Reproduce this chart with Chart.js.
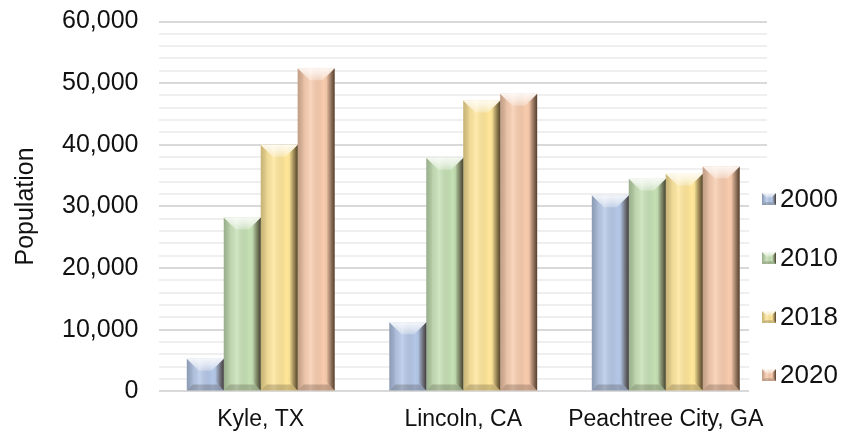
<!DOCTYPE html>
<html>
<head>
<meta charset="utf-8">
<script src="https://cdn.jsdelivr.net/npm/chart.js@4"></script>
<style>
    html, body { margin: 0; padding: 0; background: #fff; }
</style>
</head>
<body>
<canvas id="grafica" width="843" height="432"></canvas>
<script>
// Datos
const ciudades = ['Kyle, TX', 'Lincoln, CA', 'Peachtree City, GA'];
const anios = ['2000', '2010', '2018', '2020'];
const poblacion2000 = [5300, 11200, 31800];
const poblacion2010 = [28200, 37900, 34500];
const poblacion2018 = [40000, 47200, 35300];
const poblacion2020 = [52400, 48300, 36500];
const colores = ['#b4c7e7', '#c5e0b4', '#ffe699', '#f8cbad'];

const fuente = '"Liberation Sans", Arial, sans-serif';

// Rellena un polígono
function poligono(ctx, puntos, estilo) {
    ctx.beginPath();
    ctx.moveTo(puntos[0][0], puntos[0][1]);
    for (let i = 1; i < puntos.length; i++) {
        ctx.lineTo(puntos[i][0], puntos[i][1]);
    }
    ctx.closePath();
    ctx.fillStyle = estilo;
    ctx.fill();
}

// Efecto de bisel (como el de Excel) encima de una barra
function dibujarBisel(ctx, x0, x1, top, bottom, tam) {
    let w = x1 - x0;
    let h = bottom - top;
    if (h <= 0) return;
    let bt = Math.min(tam, w / 3, h / 2);      // bisel superior
    let s = Math.min(tam * 0.5, w / 5, h / 3); // biseles laterales e inferior
    ctx.save();

    let g = ctx.createLinearGradient(x0, 0, x1, 0);
    g.addColorStop(0, 'rgba(0,0,0,0.05)');
    g.addColorStop(0.35, 'rgba(255,255,255,0.2)');
    g.addColorStop(0.7, 'rgba(0,0,0,0.0)');
    g.addColorStop(1, 'rgba(0,0,0,0.12)');
    ctx.fillStyle = g;
    ctx.fillRect(x0, top, w, h);

    // lado derecho oscuro
    let sd = s * 1.3;
    let gd = ctx.createLinearGradient(x1 - sd, 0, x1, 0);
    gd.addColorStop(0, 'rgba(40,25,10,0.05)');
    gd.addColorStop(1, 'rgba(40,25,10,0.75)');
    poligono(ctx, [[x1 - sd, top + sd], [x1, top], [x1, bottom], [x1 - sd, bottom - sd]], gd);

    // lado izquierdo
    let gi = ctx.createLinearGradient(x0, 0, x0 + s, 0);
    gi.addColorStop(0, 'rgba(0,0,0,0.18)');
    gi.addColorStop(1, 'rgba(0,0,0,0.03)');
    poligono(ctx, [[x0, top], [x0 + s, top + s], [x0 + s, bottom - s], [x0, bottom]], gi);

    // bisel inferior
    poligono(ctx, [[x0, bottom], [x0 + s, bottom - s], [x1 - s, bottom - s], [x1, bottom]], 'rgba(30,20,10,0.2)');

    // bisel superior claro
    let gs = ctx.createLinearGradient(0, top, 0, top + bt);
    gs.addColorStop(0, 'rgba(255,255,255,0.85)');
    gs.addColorStop(0.5, 'rgba(255,255,255,0.6)');
    gs.addColorStop(1, 'rgba(255,255,255,0.25)');
    poligono(ctx, [[x0, top], [x1, top], [x1 - bt, top + bt], [x0 + bt, top + bt]], gs);
    // esquina derecha del bisel superior algo más oscura
    poligono(ctx, [[x1, top], [x1 - bt, top + bt], [x1 - bt * 0.6, top + bt * 0.6]], 'rgba(40,25,10,0.12)');

    ctx.restore();
}

const pluginBisel = {
    id: 'bisel',
    afterDatasetsDraw(chart) {
        let ctx = chart.ctx;
        chart.data.datasets.forEach((ds, i) => {
            chart.getDatasetMeta(i).data.forEach(barra => {
                let p = barra.getProps(['x', 'y', 'base', 'width'], true);
                dibujarBisel(ctx, p.x - p.width / 2, p.x + p.width / 2, p.y, p.base, 12);
            });
        });
    }
};

// Leyenda propia a la derecha, encima del área del gráfico
const pluginLeyenda = {
    id: 'leyendaPropia',
    afterDraw(chart) {
        let ctx = chart.ctx;
        let centros = [199, 258, 317, 375];
        ctx.save();
        ctx.fillStyle = '#fff';
        ctx.fillRect(749, 162, 94, 232);
        ctx.font = '26px ' + fuente;
        ctx.textBaseline = 'middle';
        ctx.textAlign = 'left';
        chart.data.datasets.forEach((ds, i) => {
            let y = centros[i];
            ctx.fillStyle = ds.backgroundColor;
            ctx.fillRect(762, y - 6, 14, 12);
            dibujarBisel(ctx, 762, 776, y - 6, y + 6, 6);
            ctx.fillStyle = '#111';
            ctx.fillText(ds.label, 780, y + 1);
        });
        ctx.restore();
    }
};

const series = [poblacion2000, poblacion2010, poblacion2018, poblacion2020];

let ctx = document.getElementById('grafica').getContext('2d');
window.myChart = new Chart(ctx, {
    type: 'bar',
    data: {
        labels: ciudades,
        datasets: anios.map((anio, i) => ({
            label: anio,
            data: series[i],
            backgroundColor: colores[i],
            borderWidth: 0,
            categoryPercentage: 0.73,
            barPercentage: 1.0
        }))
    },
    options: {
        responsive: false,
        animation: false,
        layout: {
            padding: { left: 7, right: 76, top: 0, bottom: -15 }
        },
        plugins: {
            legend: { display: false },
            tooltip: { enabled: false }
        },
        scales: {
            x: {
                grid: { display: false, drawTicks: false },
                border: { display: false },
                ticks: {
                    color: '#111',
                    font: { family: fuente, size: 23 },
                    padding: 14,
                    autoSkip: false,
                    minRotation: 0,
                    maxRotation: 0
                }
            },
            y: {
                min: 0,
                max: 60000,
                border: { display: false },
                grid: {
                    drawTicks: false,
                    lineWidth: 2,
                    color: c => (c.tick && c.tick.value % 10000 === 0) ? '#d9d9d9' : '#efefef'
                },
                ticks: {
                    stepSize: 2000,
                    autoSkip: false,
                    color: '#111',
                    font: { family: fuente, size: 25, lineHeight: 0.04 },
                    padding: 21,
                    callback: v => v % 10000 === 0 ? v.toLocaleString('en-US') : ''
                },
                title: {
                    display: true,
                    text: 'Population',
                    color: '#111',
                    font: { family: fuente, size: 25 },
                    padding: { top: 4, bottom: 0 }
                }
            }
        }
    },
    plugins: [pluginBisel, pluginLeyenda]
});
</script>
</body>
</html>
